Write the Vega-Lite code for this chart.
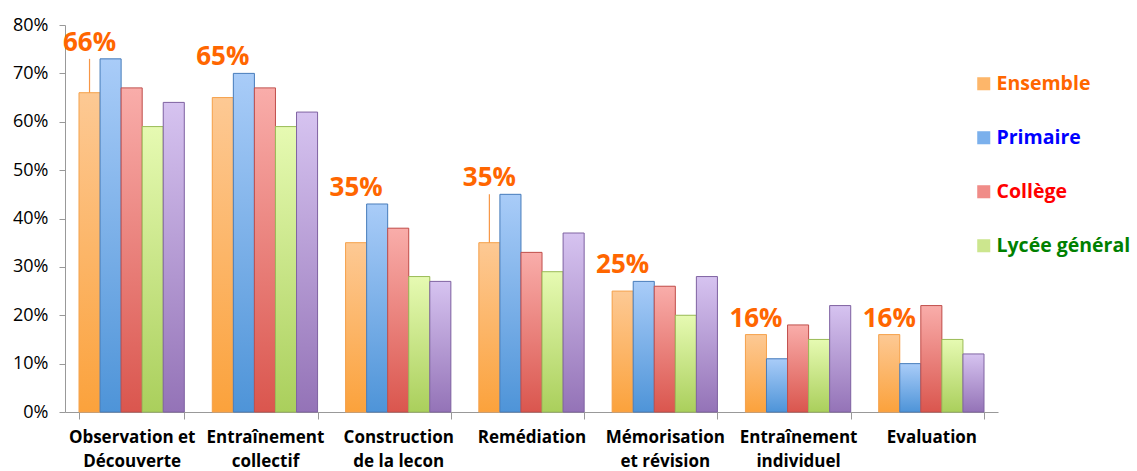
{
  "$schema": "https://vega.github.io/schema/vega-lite/v6.json",
  "autosize": "none",
  "width": 933,
  "height": 387,
  "padding": {"left": 65, "top": 25, "right": 139, "bottom": 59},
  "background": "white",
  "config": {
    "view": {"stroke": null},
    "font": "Open Sans",
    "axis": {"grid": false, "domainColor": "#999999", "tickColor": "#999999", "labelColor": "#000000", "labelFont": "Open Sans"}
  },
  "data": {
    "values": [
      {"cat": "Observation et Découverte", "series": "Ensemble", "pct": 0.66},
      {"cat": "Observation et Découverte", "series": "Primaire", "pct": 0.73},
      {"cat": "Observation et Découverte", "series": "Collège", "pct": 0.67},
      {"cat": "Observation et Découverte", "series": "Lycée général", "pct": 0.59},
      {"cat": "Observation et Découverte", "series": "Autre", "pct": 0.64},
      {"cat": "Entraînement collectif", "series": "Ensemble", "pct": 0.65},
      {"cat": "Entraînement collectif", "series": "Primaire", "pct": 0.70},
      {"cat": "Entraînement collectif", "series": "Collège", "pct": 0.67},
      {"cat": "Entraînement collectif", "series": "Lycée général", "pct": 0.59},
      {"cat": "Entraînement collectif", "series": "Autre", "pct": 0.62},
      {"cat": "Construction de la lecon", "series": "Ensemble", "pct": 0.35},
      {"cat": "Construction de la lecon", "series": "Primaire", "pct": 0.43},
      {"cat": "Construction de la lecon", "series": "Collège", "pct": 0.38},
      {"cat": "Construction de la lecon", "series": "Lycée général", "pct": 0.28},
      {"cat": "Construction de la lecon", "series": "Autre", "pct": 0.27},
      {"cat": "Remédiation", "series": "Ensemble", "pct": 0.35},
      {"cat": "Remédiation", "series": "Primaire", "pct": 0.45},
      {"cat": "Remédiation", "series": "Collège", "pct": 0.33},
      {"cat": "Remédiation", "series": "Lycée général", "pct": 0.29},
      {"cat": "Remédiation", "series": "Autre", "pct": 0.37},
      {"cat": "Mémorisation et révision", "series": "Ensemble", "pct": 0.25},
      {"cat": "Mémorisation et révision", "series": "Primaire", "pct": 0.27},
      {"cat": "Mémorisation et révision", "series": "Collège", "pct": 0.26},
      {"cat": "Mémorisation et révision", "series": "Lycée général", "pct": 0.20},
      {"cat": "Mémorisation et révision", "series": "Autre", "pct": 0.28},
      {"cat": "Entraînement individuel", "series": "Ensemble", "pct": 0.16},
      {"cat": "Entraînement individuel", "series": "Primaire", "pct": 0.11},
      {"cat": "Entraînement individuel", "series": "Collège", "pct": 0.18},
      {"cat": "Entraînement individuel", "series": "Lycée général", "pct": 0.15},
      {"cat": "Entraînement individuel", "series": "Autre", "pct": 0.22},
      {"cat": "Evaluation", "series": "Ensemble", "pct": 0.16},
      {"cat": "Evaluation", "series": "Primaire", "pct": 0.10},
      {"cat": "Evaluation", "series": "Collège", "pct": 0.22},
      {"cat": "Evaluation", "series": "Lycée général", "pct": 0.15},
      {"cat": "Evaluation", "series": "Autre", "pct": 0.12}
    ]
  },
  "encoding": {
    "x": {
      "field": "cat", "type": "nominal", "sort": null,
      "scale": {"paddingInner": 0.21, "paddingOuter": 0.105},
      "axis": {
        "title": null, "labelAngle": 0, "tickBand": "extent", "tickSize": 7,
        "labelFontSize": 17, "labelFontWeight": "bold", "labelPadding": 10, "labelLineHeight": 24,
        "labelBaseline": "top",
        "labelExpr": "({'Observation et Découverte': ['Observation et', 'Découverte'], 'Entraînement collectif': ['Entraînement', 'collectif'], 'Construction de la lecon': ['Construction', 'de la lecon'], 'Remédiation': ['Remédiation'], 'Mémorisation et révision': ['Mémorisation', 'et révision'], 'Entraînement individuel': ['Entraînement', 'individuel'], 'Evaluation': ['Evaluation']})[datum.label]"
      }
    },
    "xOffset": {
      "field": "series", "type": "nominal",
      "scale": {"domain": ["Ensemble", "Primaire", "Collège", "Lycée général", "Autre"], "paddingInner": 0, "paddingOuter": 0}
    },
    "y": {
      "field": "pct", "type": "quantitative",
      "scale": {"domain": [0, 0.8], "nice": false},
      "axis": {"title": null, "format": ".0%", "values": [0, 0.1, 0.2, 0.3, 0.4, 0.5, 0.6, 0.7, 0.8], "labelFontSize": 18, "tickSize": 6, "labelPadding": 11}
    }
  },
  "layer": [
    {
      "mark": {"type": "bar"},
      "encoding": {
        "color": {
          "field": "series", "type": "nominal",
          "scale": {"domain": ["Ensemble", "Primaire", "Collège", "Lycée général", "Autre"], "range": ["#FDB66A", "#7BB0EC", "#F08C88", "#CCE68E", "#B59FD8"]},
          "legend": {
            "values": ["Ensemble", "Primaire", "Collège", "Lycée général"],
            "title": null, "orient": "none", "legendX": 909, "legendY": 49,
            "symbolType": "square", "symbolSize": 170, "symbolStrokeWidth": 0,
            "labelFontSize": 19.5, "labelFontWeight": "bold", "labelFont": "Open Sans",
            "rowPadding": 33, "labelOffset": 3,
            "labelColor": {"expr": "datum.label == 'Ensemble' ? '#FF6600' : datum.label == 'Primaire' ? '#0000FF' : datum.label == 'Collège' ? '#FF0000' : '#008000'"}
          }
        }
      }
    },
    {
      "mark": {"type": "bar", "strokeWidth": 1},
      "encoding": {
        "fill": {
          "condition": [
            {"test": "datum.series == 'Ensemble'", "value": {"gradient": "linear", "x1": 0, "y1": 0, "x2": 0, "y2": 1, "stops": [{"offset": 0, "color": "#FDC994"}, {"offset": 1, "color": "#FBA23C"}]}},
            {"test": "datum.series == 'Primaire'", "value": {"gradient": "linear", "x1": 0, "y1": 0, "x2": 0, "y2": 1, "stops": [{"offset": 0, "color": "#A9CCF8"}, {"offset": 1, "color": "#4E94D8"}]}},
            {"test": "datum.series == 'Collège'", "value": {"gradient": "linear", "x1": 0, "y1": 0, "x2": 0, "y2": 1, "stops": [{"offset": 0, "color": "#F9ADAA"}, {"offset": 1, "color": "#DA564E"}]}},
            {"test": "datum.series == 'Lycée général'", "value": {"gradient": "linear", "x1": 0, "y1": 0, "x2": 0, "y2": 1, "stops": [{"offset": 0, "color": "#E6FAB2"}, {"offset": 1, "color": "#AACF5C"}]}}
          ],
          "value": {"gradient": "linear", "x1": 0, "y1": 0, "x2": 0, "y2": 1, "stops": [{"offset": 0, "color": "#D6C3F0"}, {"offset": 1, "color": "#9473B7"}]}
        },
        "stroke": {
          "condition": [
            {"test": "datum.series == 'Ensemble'", "value": "#F5A34E"},
            {"test": "datum.series == 'Primaire'", "value": "#4A7EBB"},
            {"test": "datum.series == 'Collège'", "value": "#C0504D"},
            {"test": "datum.series == 'Lycée général'", "value": "#9BBB59"}
          ],
          "value": "#8064A2"
        }
      }
    },
    {
      "transform": [
        {"filter": "datum.series == 'Ensemble' || datum.series == 'Primaire'"},
        {"joinaggregate": [{"op": "max", "field": "pct", "as": "top"}], "groupby": ["cat"]},
        {"filter": "datum.series == 'Ensemble'"},
        {"filter": "datum.cat == 'Observation et Découverte' || datum.cat == 'Remédiation'"}
      ],
      "mark": {"type": "rule", "color": "#F79646", "strokeWidth": 1.2},
      "encoding": {
        "y": {"field": "pct", "type": "quantitative"},
        "y2": {"field": "top"}
      }
    },
    {
      "transform": [
        {"filter": "datum.series == 'Ensemble' || datum.series == 'Primaire'"},
        {"joinaggregate": [{"op": "max", "field": "pct", "as": "top"}], "groupby": ["cat"]},
        {"filter": "datum.series == 'Ensemble'"}
      ],
      "mark": {"type": "text", "font": "Open Sans", "fontSize": 26, "fontWeight": "bold", "color": "#FF6600", "baseline": "alphabetic", "align": "center", "dy": -8},
      "encoding": {
        "y": {"field": "top", "type": "quantitative"},
        "text": {"field": "pct", "type": "quantitative", "format": ".0%"}
      }
    }
  ]
}
